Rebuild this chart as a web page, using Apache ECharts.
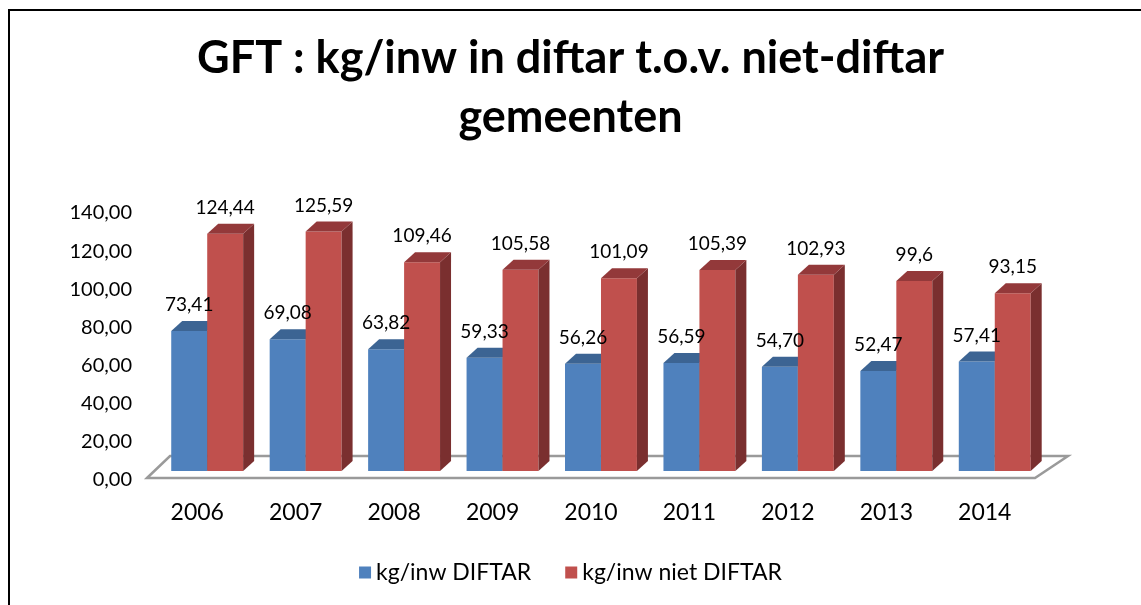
<!DOCTYPE html>
<html>
<head>
<meta charset="utf-8">
<script src="https://cdn.jsdelivr.net/npm/echarts@6/dist/echarts.min.js"></script>
<style>
  html, body { margin: 0; padding: 0; background: #fff; }
  #main { width: 1141px; height: 605px; }
</style>
</head>
<body>
<div id="main"></div>
<script>
// GFT kg/inw diftar vs niet-diftar
var years = ['2006', '2007', '2008', '2009', '2010', '2011', '2012', '2013', '2014'];
var diftar = [73.41, 69.08, 63.82, 59.33, 56.26, 56.59, 54.70, 52.47, 57.41];
var nietDiftar = [124.44, 125.59, 109.46, 105.58, 101.09, 105.39, 102.93, 99.6, 93.15];
var yTicks = [0, 20, 40, 60, 80, 100, 120, 140];
var legendData = ['kg/inw DIFTAR', 'kg/inw niet DIFTAR'];

var FONT = 'Lato, "Noto Sans", sans-serif';
var LIFT = 9;      // front of the bars sits a bit above the axis zero line
var DX = 11, DY = -10;

function blueLabel(v) { return v.toFixed(2).replace('.', ','); }
function redLabel(v) { return String(v).replace('.', ','); }

function bar3d(offset, colors, fmt) {
    return function (params, api) {
        var cat = api.value(0), val = api.value(1);
        var p = api.coord([cat, val]);
        var base = api.coord([cat, 0]);
        var band = api.size([1, 0])[0];
        var w = band * 0.365;
        var x = p[0] + band * offset;
        var yTop = p[1] - LIFT, yBot = base[1] - LIFT;
        return {
            type: 'group',
            children: [
                { type: 'rect', shape: { x: x, y: yTop, width: w, height: yBot - yTop }, style: { fill: colors[0] }, z2: 1 },
                { type: 'polygon', shape: { points: [[x + w, yTop], [x + w + DX, yTop + DY], [x + w + DX, yBot + DY], [x + w, yBot]] }, style: { fill: colors[2] }, z2: 1 },
                { type: 'polygon', shape: { points: [[x, yTop], [x + DX, yTop + DY], [x + w + DX, yTop + DY], [x + w, yTop]] }, style: { fill: colors[1] }, z2: 1 },
                { type: 'text', z2: 100, style: { text: fmt(val), x: x + w / 2, y: yTop + DY - 16, align: 'center', verticalAlign: 'middle', font: '19px ' + FONT, fill: '#000' } }
            ]
        };
    };
}

function floor(params, api) {
    var cs = params.coordSys;
    var x0 = cs.x, x1 = cs.x + cs.width, y0 = cs.y + cs.height;
    return {
        type: 'polygon',
        shape: { points: [[x0 - 1, y0 - 2], [x0 + 22, y0 - 24], [x1 + 34, y0 - 24], [x1 + 1, y0 - 2]] },
        style: { fill: '#fff', stroke: '#9a9a9a', lineWidth: 2.5 }
    };
}

var myChart = echarts.init(document.getElementById('main'));
var option = {
    backgroundColor: '#fff',
    animation: false,
    title: {
        text: 'GFT : kg/inw in diftar t.o.v. niet-diftar\ngemeenten',
        left: 'center', top: 24,
        textStyle: { fontFamily: FONT, fontSize: 45, fontWeight: 'bold', color: '#000', lineHeight: 59 }
    },
    legend: {
        data: [
            { name: legendData[0], itemStyle: { color: '#4F81BD' } },
            { name: legendData[1], itemStyle: { color: '#C0504D' } }
        ],
        bottom: 16, left: 'center', icon: 'rect', itemWidth: 12, itemHeight: 12, itemGap: 34,
        textStyle: { fontFamily: FONT, fontSize: 23, color: '#000' }
    },
    grid: { left: 148, right: 107, top: 213, bottom: 125 },
    xAxis: {
        type: 'category', data: years,
        axisLine: { show: false }, axisTick: { show: false },
        axisLabel: { margin: 21, fontFamily: FONT, fontSize: 23, color: '#000' }
    },
    yAxis: {
        type: 'value', min: 0, max: 140, interval: 20,
        axisLine: { show: false }, axisTick: { show: false }, splitLine: { show: false },
        axisLabel: { margin: 16, fontFamily: FONT, fontSize: 20, color: '#000',
            formatter: function (v) { return yTicks.indexOf(v) >= 0 ? v.toFixed(2).replace('.', ',') : ''; } }
    },
    graphic: [
        { type: 'polyline', shape: { points: [[9, 605], [9, 10], [1141, 10]] }, style: { stroke: '#000', lineWidth: 2, fill: null } }
    ],
    series: [
        { type: 'custom', name: 'floor', renderItem: floor, data: [[0, 0]], silent: true, z: 1 },
        { type: 'custom', name: legendData[0], renderItem: bar3d(-0.264, ['#4F81BD', '#3C6493', '#2F5073'], blueLabel),
          itemStyle: { color: '#4F81BD' }, data: diftar.map(function (v, i) { return [i, v]; }), z: 2 },
        { type: 'custom', name: legendData[1], renderItem: bar3d(0.1015, ['#C0504D', '#93393A', '#7A2F2F'], redLabel),
          itemStyle: { color: '#C0504D' }, data: nietDiftar.map(function (v, i) { return [i, v]; }), z: 2 }
    ]
};
myChart.setOption(option);
</script>
</body>
</html>
